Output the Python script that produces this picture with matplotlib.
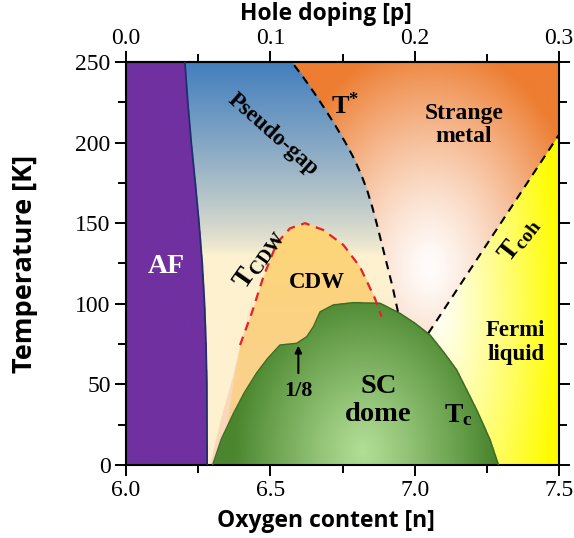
import numpy as np
import matplotlib.pyplot as plt

plt.rcParams['mathtext.fontset'] = 'custom'
plt.rcParams['mathtext.rm'] = 'Liberation Serif:bold'
plt.rcParams['mathtext.it'] = 'Liberation Serif:bold'
plt.rcParams['mathtext.bf'] = 'Liberation Serif:bold'

# phase boundaries (oxygen content n, temperature K)
af_T = [0, 50, 75, 100, 125, 150, 175, 200, 225, 250]
af_n = [6.281, 6.280, 6.277, 6.272, 6.264, 6.253, 6.240, 6.226, 6.214, 6.204]

tstar_T = [95, 100, 110, 120, 130, 140, 150, 160, 170, 180, 190, 200,
           210, 220, 230, 240, 250]
tstar_n = [6.942, 6.936, 6.924, 6.910, 6.896, 6.882, 6.868, 6.853, 6.836,
           6.815, 6.790, 6.760, 6.727, 6.692, 6.655, 6.616, 6.574]

tcoh_n = [7.047, 7.5]
tcoh_T = [81.7, 205]

cdw_n = [6.395, 6.435, 6.476, 6.522, 6.568, 6.62, 6.683, 6.753, 6.81, 6.862, 6.885]
cdw_T = [74.4, 94, 116.8, 137.5, 146.8, 150, 145.8, 136.5, 123, 103.4, 92]
# CDW fill continues under the dome
cdwfill_n = [6.33, 6.37] + cdw_n + [6.91, 6.94]
cdwfill_T = [0, 50] + cdw_T + [70, 0]

halo_T = [0, 30, 55, 74.4, 100]
halo_n = [6.29, 6.33, 6.37, 6.395, 6.43]

sc_n = [6.30, 6.33, 6.372, 6.41, 6.452, 6.49, 6.533, 6.591, 6.626, 6.649, 6.672,
        6.718, 6.787, 6.88, 6.949, 7.0, 7.053, 7.1, 7.145, 7.215, 7.26, 7.29]
sc_T = [0, 16, 32, 45, 57, 66, 74.4, 75.5, 79.6, 85.8, 95,
        99.3, 100.7, 100.3, 94, 88, 80.6, 70, 59, 34, 16, 0]

p_ticks = [0.0, 0.1, 0.2, 0.3]

# raster of the colour regions
n = np.linspace(6.0, 7.5, 700)
T = np.linspace(0, 250, 600)
N, TT = np.meshgrid(n, T)
img = np.zeros(N.shape + (3,))

def mix(c0, c1, f):
    f = np.clip(f, 0, 1)[..., None]
    return np.array(c0) / 255 * (1 - f) + np.array(c1) / 255 * f

# pseudo-gap side
f = ((TT - 130) / 120).clip(0, 1) ** 0.8
pg = mix((253, 241, 208), (66, 126, 190), f)
# strange metal
d = np.sqrt(((N - 7.05) / 0.55) ** 2 + ((TT - 122) / 140) ** 2)
sm = mix((255, 253, 252), (237, 125, 49), d ** 1.3)
# fermi liquid
d2 = np.sqrt(((N - 7.08) / 0.42) ** 2 + ((TT - 100) / 220) ** 2)
fl = mix((255, 255, 250), (255, 252, 0), d2 ** 1.1)

n_star = np.interp(TT, tstar_T, tstar_n)
t_coh = tcoh_T[0] + (N - tcoh_n[0]) * (tcoh_T[1] - tcoh_T[0]) / (tcoh_n[1] - tcoh_n[0])
left = N < n_star
img[:] = np.where(left[..., None], pg, np.where((TT > t_coh)[..., None], sm, fl))

# peach halo around CDW
halo = left & (N > np.interp(TT, halo_T, halo_n)) & (TT < 105)
fh = ((105 - TT) / 30)
img[halo] = mix((253, 241, 208), (249, 216, 186), fh)[halo]

# CDW dome
cdw = TT < np.interp(N, cdwfill_n, cdwfill_T, left=0, right=0)
img[cdw] = mix((249, 206, 150), (253, 214, 118), TT / 150)[cdw]

# SC dome
sc = TT < np.interp(N, sc_n, sc_T, left=0, right=0)
d3 = np.sqrt(((N - 6.82) / 0.45) ** 2 + ((TT - 8) / 100) ** 2)
img[sc] = mix((178, 222, 150), (74, 134, 46), d3 ** 1.1)[sc]

# AF
af = N < np.interp(TT, af_T, af_n)
img[af] = np.array((112, 48, 160)) / 255

fig = plt.figure(figsize=(5.74, 5.38), dpi=100)
ax = fig.add_axes([0.2195, 0.1357, 0.7545, 0.7491])
ax.imshow(img, origin='lower', extent=[6.0, 7.5, 0, 250], aspect='auto',
          interpolation='bilinear', zorder=0)

ax.plot(af_n, af_T, color='#1f2f6e', lw=1.3, zorder=3)
ax.plot(tstar_n, tstar_T, color='k', lw=1.5, ls=(0, (4, 3)), zorder=3)
ax.plot(tcoh_n, tcoh_T, color='k', lw=1.5, ls=(0, (4, 3)), zorder=3)
ax.plot(cdw_n, cdw_T, color='#e8202a', lw=1.6, ls=(0, (4, 3)), zorder=3)
ax.plot(sc_n, sc_T, color='#3e6b25', lw=1.0, zorder=3)

ax.set_xlim(6.0, 7.5)
ax.set_ylim(0, 250)

tfont = dict(family='Liberation Serif', fontweight='bold', color='black')
ax.text(6.14, 123, 'AF', fontsize=20, ha='center', va='center',
        family='Liberation Serif', fontweight='bold', color='white')
ax.text(6.51, 205, 'Pseudo-gap', fontsize=16.5, ha='center', va='center',
        rotation=-41.5, **tfont)
ax.text(6.76, 223, r'T$^{*}$', fontsize=19, ha='center', va='center', **tfont)
ax.text(7.17, 211, 'Strange\nmetal', fontsize=17, ha='center', va='center',
        linespacing=1.15, **tfont)
ax.text(6.46, 128, r'T$_{\mathrm{CDW}}$', fontsize=20, ha='center', va='center',
        rotation=55, **tfont)
ax.text(6.66, 113, 'CDW', fontsize=16.5, ha='center', va='center', **tfont)
ax.text(7.36, 140, r'T$_{\mathrm{coh}}$', fontsize=20, ha='center', va='center',
        rotation=52, **tfont)
ax.text(7.35, 76, 'Fermi\nliquid', fontsize=16.5, ha='center', va='center',
        linespacing=1.15, **tfont)
ax.text(6.875, 40, 'SC\ndome', fontsize=20.5, ha='center', va='center',
        linespacing=1.2, **tfont)
ax.text(7.15, 31, r'T$_{\mathrm{c}}$', fontsize=20, ha='center', va='center', **tfont)
ax.text(6.597, 46, '1/8', fontsize=16, ha='center', va='center', **tfont)
ax.annotate('', xy=(6.597, 74), xytext=(6.597, 57),
            arrowprops=dict(arrowstyle='-|>', color='k', lw=1.5,
                            mutation_scale=10, shrinkA=0, shrinkB=0))

ax.set_xticks([6.0, 6.5, 7.0, 7.5])
ax.set_xticklabels(['6.0', '6.5', '7.0', '7.5'])
ax.set_xticks([6.25, 6.75, 7.25], minor=True)
ax.set_yticks(range(0, 251, 50))
ax.set_yticks(range(25, 250, 50), minor=True)
ax.tick_params(which='major', direction='out', length=8, width=1.4,
               labelsize=17, right=True, pad=3)
ax.tick_params(which='minor', direction='out', length=6, width=1.4, right=True)
for lab in ax.get_xticklabels() + ax.get_yticklabels():
    lab.set_family('Liberation Serif')
for s in ax.spines.values():
    s.set_linewidth(1.5)

top = ax.secondary_xaxis('top', functions=(lambda x: (x - 6) / 5, lambda p: 6 + 5 * p))
top.set_xticks(p_ticks)
top.set_xticklabels([f'{p:.1f}' for p in p_ticks], family='Liberation Serif')
top.set_xticks([0.05, 0.15, 0.25], minor=True)
top.tick_params(which='major', direction='out', length=8, width=1.4, labelsize=17, pad=1)
top.tick_params(which='minor', direction='out', length=6, width=1.4)
top.spines['top'].set_linewidth(1.5)

lab_font = dict(family='Open Sans', fontweight='bold')
ax.text(0.462, 1.104, 'Hole doping [p]', transform=ax.transAxes, ha='center',
        va='baseline', fontsize=16.5, **lab_font)
ax.set_xlabel('Oxygen content [n]', fontsize=16.5, **lab_font)
ax.xaxis.set_label_coords(0.462, -0.108)
ax.set_ylabel('Temperature [K]', fontsize=19.5, labelpad=27, **lab_font)

fig.savefig('out.png', dpi=100)
